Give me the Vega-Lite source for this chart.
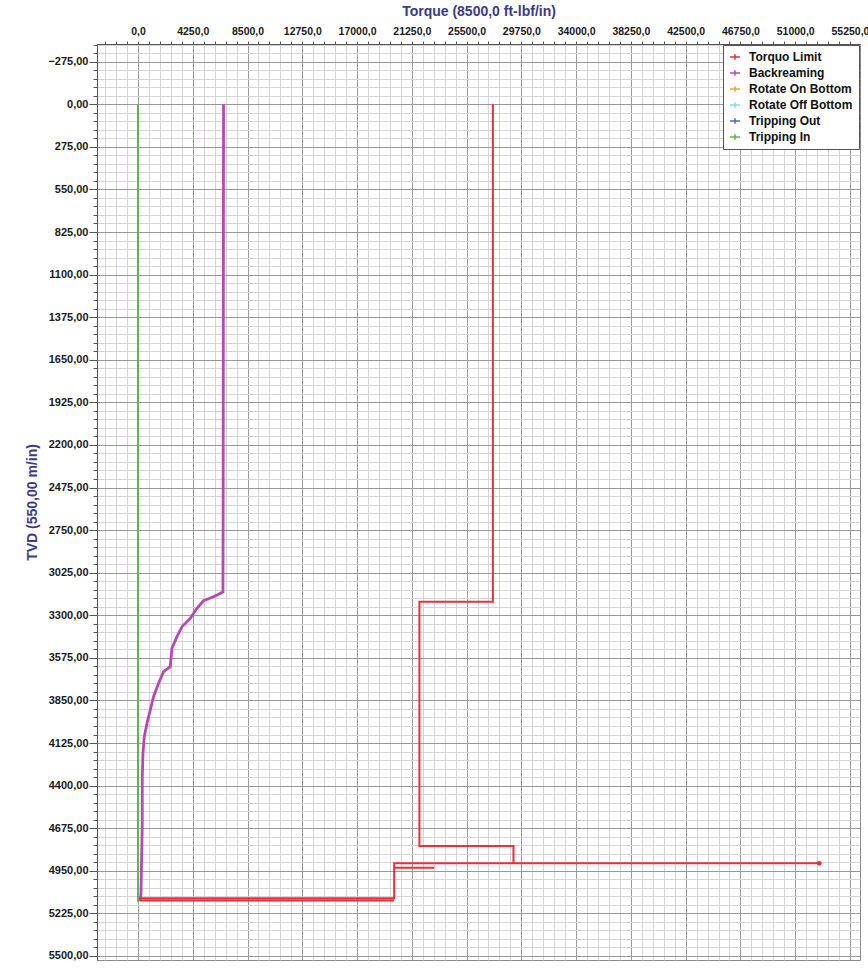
{
  "$schema": "https://vega.github.io/schema/vega-lite/v6.json",
  "width": 763,
  "height": 916,
  "autosize": {"type": "none"},
  "padding": {"left": 97, "top": 44, "right": 8, "bottom": 9},
  "background": "white",
  "config": {
    "font": "Liberation Sans",
    "view": {"stroke": "#8a8a8a", "strokeWidth": 1},
    "axis": {
      "labelFont": "Liberation Sans",
      "labelFontSize": 11,
      "labelFontWeight": "bold",
      "labelColor": "#1a1a1a",
      "titleFont": "Liberation Sans",
      "titleFontSize": 14,
      "titleFontWeight": "bold",
      "titleColor": "#3b3a8c",
      "domainColor": "#555555",
      "tickColor": "#555555",
      "gridWidth": 1,
      "labelOverlap": false,
      "labelFlush": false,
      "labelBound": false
    },
    "legend": {
      "orient": "top-right",
      "offset": 1,
      "padding": 6,
      "strokeColor": "#555555",
      "fillColor": "white",
      "cornerRadius": 0,
      "labelFont": "Liberation Sans",
      "labelFontSize": 12,
      "labelFontWeight": "bold",
      "labelColor": "#111111",
      "labelOffset": 8,
      "rowPadding": 4,
      "symbolType": "M-1,0L1,0M0,-0.55L0,0.55",
      "symbolSize": 100,
      "symbolStrokeWidth": 1.5
    }
  },
  "data": {
    "values": [
      {"series": "Tripping In", "torque": 0, "tvd": 0, "seq": 1},
      {"series": "Tripping In", "torque": 0, "tvd": 5150, "seq": 2},

      {"series": "Backreaming", "torque": 6640, "tvd": 0, "seq": 1},
      {"series": "Backreaming", "torque": 6632, "tvd": 700, "seq": 2},
      {"series": "Backreaming", "torque": 6620, "tvd": 1600, "seq": 3},
      {"series": "Backreaming", "torque": 6610, "tvd": 2600, "seq": 4},
      {"series": "Backreaming", "torque": 6595, "tvd": 3150, "seq": 5},
      {"series": "Backreaming", "torque": 5866, "tvd": 3180, "seq": 6},
      {"series": "Backreaming", "torque": 5089, "tvd": 3206, "seq": 7},
      {"series": "Backreaming", "torque": 4577, "tvd": 3255, "seq": 8},
      {"series": "Backreaming", "torque": 4057, "tvd": 3320, "seq": 9},
      {"series": "Backreaming", "torque": 3413, "tvd": 3374, "seq": 10},
      {"series": "Backreaming", "torque": 3025, "tvd": 3438, "seq": 11},
      {"series": "Backreaming", "torque": 2637, "tvd": 3513, "seq": 12},
      {"series": "Backreaming", "torque": 2505, "tvd": 3632, "seq": 13},
      {"series": "Backreaming", "torque": 1986, "tvd": 3664, "seq": 14},
      {"series": "Backreaming", "torque": 1598, "tvd": 3739, "seq": 15},
      {"series": "Backreaming", "torque": 1210, "tvd": 3826, "seq": 16},
      {"series": "Backreaming", "torque": 954, "tvd": 3912, "seq": 17},
      {"series": "Backreaming", "torque": 698, "tvd": 3998, "seq": 18},
      {"series": "Backreaming", "torque": 489, "tvd": 4084, "seq": 19},
      {"series": "Backreaming", "torque": 388, "tvd": 4191, "seq": 20},
      {"series": "Backreaming", "torque": 334, "tvd": 4342, "seq": 21},
      {"series": "Backreaming", "torque": 330, "tvd": 4665, "seq": 22},
      {"series": "Backreaming", "torque": 279, "tvd": 4880, "seq": 23},
      {"series": "Backreaming", "torque": 233, "tvd": 5095, "seq": 24},
      {"series": "Backreaming", "torque": 178, "tvd": 5139, "seq": 25},

      {"series": "Torquo Limit", "torque": 27540, "tvd": 0, "seq": 1},
      {"series": "Torquo Limit", "torque": 27540, "tvd": 3212, "seq": 2},
      {"series": "Torquo Limit", "torque": 21840, "tvd": 3212, "seq": 3},
      {"series": "Torquo Limit", "torque": 21840, "tvd": 4790, "seq": 4},
      {"series": "Torquo Limit", "torque": 29140, "tvd": 4790, "seq": 5},
      {"series": "Torquo Limit", "torque": 29140, "tvd": 4902, "seq": 6},
      {"series": "Torquo Limit", "torque": 52870, "tvd": 4902, "seq": 7},
      {"series": "Torquo Limit", "torque": 19880, "tvd": 4902, "seq": 8},
      {"series": "Torquo Limit", "torque": 19880, "tvd": 4930, "seq": 9},
      {"series": "Torquo Limit", "torque": 22990, "tvd": 4930, "seq": 10},
      {"series": "Torquo Limit", "torque": 19880, "tvd": 4930, "seq": 11},
      {"series": "Torquo Limit", "torque": 19880, "tvd": 5128, "seq": 12},
      {"series": "Torquo Limit", "torque": 178, "tvd": 5128, "seq": 13},
      {"series": "Torquo Limit", "torque": 178, "tvd": 5142, "seq": 14},
      {"series": "Torquo Limit", "torque": 19880, "tvd": 5142, "seq": 15}
    ]
  },
  "layer": [
    {
      "mark": {"type": "line", "strokeJoin": "miter", "strokeCap": "butt"},
      "encoding": {
        "x": {
          "field": "torque",
          "type": "quantitative",
          "scale": {"domain": [-3180, 56030], "nice": false, "zero": false},
          "axis": {
            "orient": "top",
            "title": "Torque (8500,0 ft-lbf/in)",
            "titlePadding": 8,
            "tickCount": 1000,
            "labelOverlap": false,
            "labelFontSize": 10.5,
            "values": [-2550, -1700, -850, 0, 850, 1700, 2550, 3400, 4250, 5100, 5950, 6800, 7650, 8500, 9350, 10200, 11050, 11900, 12750, 13600, 14450, 15300, 16150, 17000, 17850, 18700, 19550, 20400, 21250, 22100, 22950, 23800, 24650, 25500, 26350, 27200, 28050, 28900, 29750, 30600, 31450, 32300, 33150, 34000, 34850, 35700, 36550, 37400, 38250, 39100, 39950, 40800, 41650, 42500, 43350, 44200, 45050, 45900, 46750, 47600, 48450, 49300, 50150, 51000, 51850, 52700, 53550, 54400, 55250],
            "labelExpr": "datum.value % 4250 === 0 ? replace(format(datum.value, '.1f'), '.', ',') : ''",
            "tickSize": 3,
            "labelPadding": 5,
            "grid": true,
            "gridColor": {"condition": {"test": "datum.value % 4250 === 0", "value": "#9a9a9a"}, "value": "#d4d4d4"}
          }
        },
        "y": {
          "field": "tvd",
          "type": "quantitative",
          "scale": {"domain": [-389, 5526], "nice": false, "zero": false, "reverse": true},
          "axis": {
            "orient": "left",
            "title": "TVD (550,00 m/in)",
            "titlePadding": 8,
            "tickCount": 1000,
            "labelOverlap": false,
            "values": [-385, -330, -275, -220, -165, -110, -55, 0, 55, 110, 165, 220, 275, 330, 385, 440, 495, 550, 605, 660, 715, 770, 825, 880, 935, 990, 1045, 1100, 1155, 1210, 1265, 1320, 1375, 1430, 1485, 1540, 1595, 1650, 1705, 1760, 1815, 1870, 1925, 1980, 2035, 2090, 2145, 2200, 2255, 2310, 2365, 2420, 2475, 2530, 2585, 2640, 2695, 2750, 2805, 2860, 2915, 2970, 3025, 3080, 3135, 3190, 3245, 3300, 3355, 3410, 3465, 3520, 3575, 3630, 3685, 3740, 3795, 3850, 3905, 3960, 4015, 4070, 4125, 4180, 4235, 4290, 4345, 4400, 4455, 4510, 4565, 4620, 4675, 4730, 4785, 4840, 4895, 4950, 5005, 5060, 5115, 5170, 5225, 5280, 5335, 5390, 5445, 5500],
            "labelExpr": "datum.value % 275 === 0 ? replace(format(datum.value, '.2f'), '.', ',') : ''",
            "tickSize": {"condition": {"test": "datum.value % 275 === 0", "value": 8}, "value": 4},
            "labelPadding": 1,
            "grid": true,
            "gridColor": {"condition": {"test": "datum.value % 275 === 0", "value": "#9a9a9a"}, "value": "#d4d4d4"}
          }
        },
        "color": {
          "field": "series",
          "type": "nominal",
          "scale": {
            "domain": ["Torquo Limit", "Backreaming", "Rotate On Bottom", "Rotate Off Bottom", "Tripping Out", "Tripping In"],
            "range": ["#e8303a", "#b548b5", "#f5a040", "#8fd6ea", "#5466c0", "#5cb84a"]
          },
          "legend": {"title": null}
        },
        "strokeWidth": {
          "condition": {"test": "datum.series === 'Backreaming'", "value": 2.8},
          "value": 2
        },
        "order": {"field": "seq", "type": "quantitative"}
      }
    },
    {
      "transform": [{"filter": "datum.series === 'Torquo Limit' && datum.torque > 50000"}],
      "mark": {"type": "circle", "size": 22, "color": "#e8303a", "opacity": 1},
      "encoding": {
        "x": {"field": "torque", "type": "quantitative"},
        "y": {"field": "tvd", "type": "quantitative"}
      }
    }
  ]
}
